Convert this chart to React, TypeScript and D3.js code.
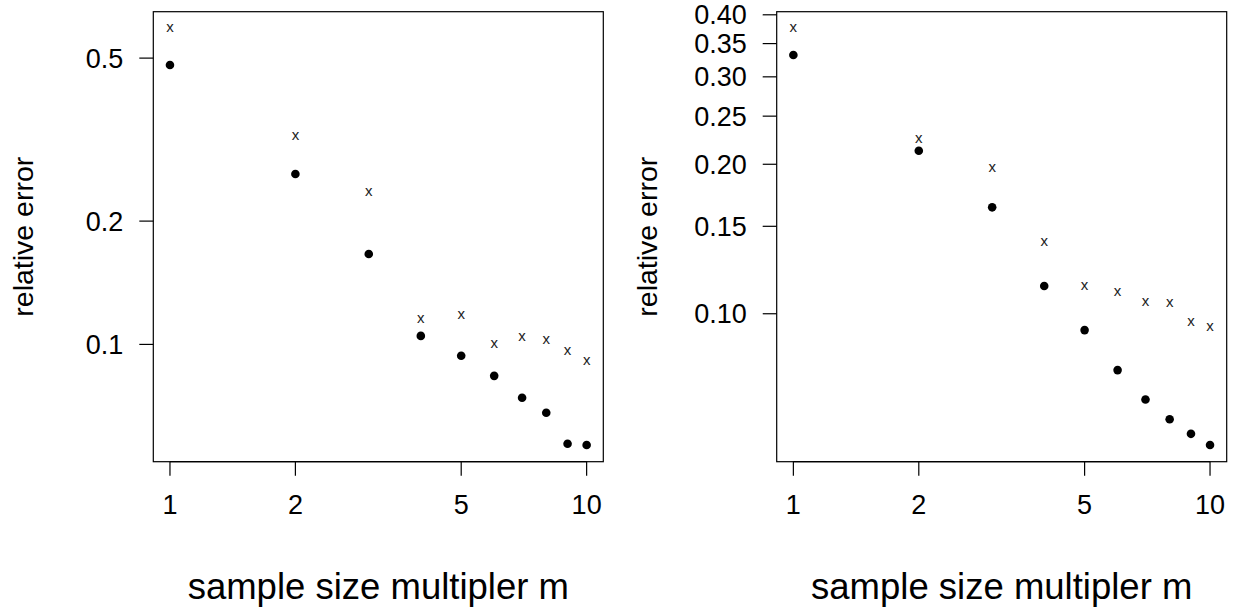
import React from 'react';
import * as d3 from 'd3';

const W = 1234;
const H = 607;

const M_VALUES = [1, 2, 3, 4, 5, 6, 7, 8, 9, 10];
const X_TICKS = [1, 2, 5, 10];

// left panel
const LEFT_DOTS = [0.481, 0.2606, 0.1662, 0.1049, 0.0938, 0.0838, 0.0741, 0.0681, 0.0572, 0.0568];
const LEFT_CROSSES = [0.591, 0.3227, 0.2355, 0.1153, 0.1179, 0.1, 0.104, 0.1026, 0.0961, 0.0912];
const LEFT_Y_TICKS = [0.1, 0.2, 0.5];

// right panel
const RIGHT_DOTS = [0.3319, 0.2129, 0.1638, 0.1137, 0.0927, 0.077, 0.0672, 0.0613, 0.0573, 0.0544];
const RIGHT_CROSSES = [0.3756, 0.2248, 0.1963, 0.1396, 0.1139, 0.1104, 0.1057, 0.1052, 0.0962, 0.0939];
const RIGHT_Y_TICKS = [0.1, 0.15, 0.2, 0.25, 0.3, 0.35, 0.4];

const FONT = 'Liberation Sans, Arial, Helvetica, sans-serif';
const TICK_SIZE = 27;
const YLAB_SIZE = 28.5;
const TITLE_SIZE = 36.5;

// R style log range padded by 4% on each side
function paddedLog(lo: number, hi: number): [number, number] {
  const a = Math.log10(lo);
  const b = Math.log10(hi);
  const p = (b - a) * 0.04;
  return [Math.pow(10, a - p), Math.pow(10, b + p)];
}

type PanelProps = {
  left: number;
  dots: number[];
  crosses: number[];
  yTicks: number[];
  yFormat: (v: number) => string;
};

function Panel({ left, dots, crosses, yTicks, yFormat }: PanelProps) {
  const top = 11.7;
  const bottom = 461.7;
  const right = left + 450;

  const x = d3.scaleLog().domain(paddedLog(1, 10)).range([left, right]);
  const all = [...dots, ...crosses];
  const y = d3
    .scaleLog()
    .domain(paddedLog(d3.min(all) as number, d3.max(all) as number))
    .range([bottom, top]);

  const tickLen = 14;

  return (
    <g>
      {/* box */}
      <rect x={left} y={top} width={right - left} height={bottom - top} fill="none" stroke="#000" strokeWidth={1.2} />

      {/* x axis */}
      <line x1={x(1)} x2={x(10)} y1={bottom} y2={bottom} stroke="#000" strokeWidth={1.2} />
      {X_TICKS.map((t) => (
        <g key={t}>
          <line x1={x(t)} x2={x(t)} y1={bottom} y2={bottom + tickLen} stroke="#000" strokeWidth={1.2} />
          <text x={x(t)} y={513.5} textAnchor="middle" fontSize={TICK_SIZE} fontFamily={FONT}>
            {t}
          </text>
        </g>
      ))}

      {/* y axis */}
      {yTicks.map((t) => (
        <g key={t}>
          <line x1={left - tickLen} x2={left} y1={y(t)} y2={y(t)} stroke="#000" strokeWidth={1.2} />
          <text x={left - 30} y={y(t) + 9.5} textAnchor="end" fontSize={TICK_SIZE} fontFamily={FONT}>
            {yFormat(t)}
          </text>
        </g>
      ))}

      {/* labels */}
      <text
        transform={`translate(${left - 120},${(top + bottom) / 2}) rotate(-90)`}
        textAnchor="middle"
        fontSize={YLAB_SIZE}
        fontFamily={FONT}
      >
        relative error
      </text>
      <text x={(left + right) / 2} y={598.5} textAnchor="middle" fontSize={TITLE_SIZE} fontFamily={FONT}>
        sample size multipler m
      </text>

      {/* crosses drawn as the letter x */}
      {crosses.map((v, i) => (
        <text
          key={'c' + i}
          x={x(M_VALUES[i])}
          y={y(v) + 3.9}
          textAnchor="middle"
          fontSize={15}
          fontFamily={FONT}
          fill="#222"
        >
          x
        </text>
      ))}

      {/* dots */}
      {dots.map((v, i) => (
        <circle key={'d' + i} cx={x(M_VALUES[i])} cy={y(v)} r={4.3} fill="#000" />
      ))}
    </g>
  );
}

export default function App() {
  return (
    <div style={{ position: 'absolute', left: 0, top: 0 }}>
      <svg width={W} height={H} style={{ display: 'block', background: '#fff' }}>
        <Panel left={153.3} dots={LEFT_DOTS} crosses={LEFT_CROSSES} yTicks={LEFT_Y_TICKS} yFormat={d3.format('.1f')} />
        <Panel left={776.7} dots={RIGHT_DOTS} crosses={RIGHT_CROSSES} yTicks={RIGHT_Y_TICKS} yFormat={d3.format('.2f')} />
      </svg>
    </div>
  );
}
